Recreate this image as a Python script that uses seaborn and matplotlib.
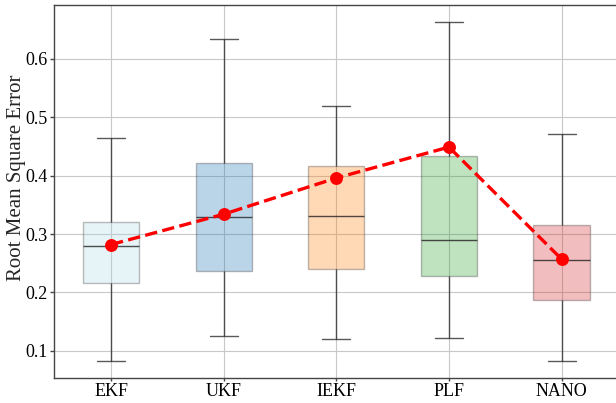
import numpy as np
import pandas as pd
import matplotlib
matplotlib.use("Agg")
import matplotlib.pyplot as plt
import seaborn as sns

# Methods and box summaries (whisker low, Q1, median, Q3, whisker high)
methods = ["EKF", "UKF", "IEKF", "PLF", "NANO"]
low = [0.082, 0.126, 0.120, 0.122, 0.083]
q1 = [0.216, 0.236, 0.240, 0.228, 0.187]
median = [0.280, 0.330, 0.331, 0.290, 0.256]
q3 = [0.321, 0.422, 0.417, 0.434, 0.316]
high = [0.465, 0.635, 0.519, 0.664, 0.472]
means = [0.282, 0.334, 0.396, 0.449, 0.257]
colors = ["lightblue", "#1f77b4", "#ff7f0e", "#2ca02c", "#d62728"]

sns.set_style("whitegrid", {
    "axes.edgecolor": "#444444",
    "grid.color": "#c8c8c8",
    "xtick.bottom": True,
    "ytick.left": True,
})
plt.rcParams["font.family"] = ["Liberation Serif", "DejaVu Serif"]
plt.rcParams["xtick.color"] = "#444444"
plt.rcParams["ytick.color"] = "#444444"
plt.rcParams["xtick.labelcolor"] = "black"
plt.rcParams["ytick.labelcolor"] = "black"

# Build long table from the five-number summaries
rows = []
for i, m in enumerate(methods):
    for v in (low[i], q1[i], median[i], q3[i], high[i]):
        rows.append({"method": m, "rmse": v})
df = pd.DataFrame(rows)

fig, ax = plt.subplots(figsize=(6.16, 4.03), dpi=100)
fig.subplots_adjust(left=0.088, right=1.004, bottom=0.063, top=0.987)

sns.boxplot(data=df, x="method", y="rmse", hue="method", order=methods,
            palette=colors, saturation=1, width=0.5, whis=(0, 100),
            linecolor="#222222", linewidth=1.0, legend=False, ax=ax,
            boxprops=dict(alpha=0.3),
            whiskerprops=dict(alpha=0.75),
            capprops=dict(alpha=0.75),
            medianprops=dict(alpha=0.8))

sns.pointplot(x=methods, y=means, color="red", linestyle="--", marker="o",
              markersize=7.5, linewidth=2.4, errorbar=None, ax=ax)
for line in ax.lines[-1:]:
    line.set_zorder(5)

ax.xaxis.grid(True)
ax.yaxis.grid(True)
ax.set_axisbelow(True)
ax.set_xlim(-0.505, 4.505)
ax.set_ylim(0.054, 0.692)
ax.set_yticks([0.1, 0.2, 0.3, 0.4, 0.5, 0.6])
ax.set_xlabel("")
ax.set_ylabel("Root Mean Square Error", fontsize=15)
ax.yaxis.set_label_coords(-0.05, 0.536)
ax.tick_params(axis="y", labelsize=13, length=3, width=1, pad=2)
ax.tick_params(axis="x", labelsize=13, length=2, width=1, pad=2)
for s in ax.spines.values():
    s.set_linewidth(1.0)
ax.spines["right"].set_visible(False)

fig.savefig("out.png", dpi=100)
